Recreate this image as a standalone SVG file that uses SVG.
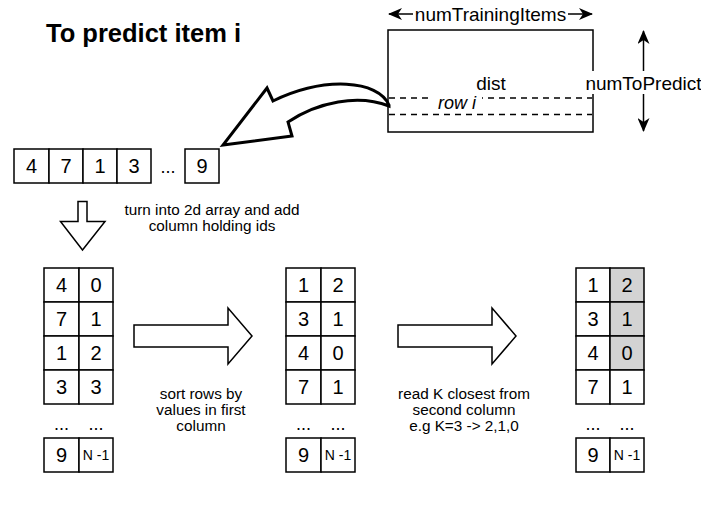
<svg xmlns="http://www.w3.org/2000/svg" width="701" height="511" viewBox="0 0 701 511">
<style>
.box{fill:#fff;stroke:#000;stroke-width:1.5}
.sh{fill:#d3d3d3;stroke:#000;stroke-width:1.5}
.num{font-family:"Liberation Sans",Arial,sans-serif;font-size:20px;text-anchor:middle;fill:#000}
.sm{font-family:"Liberation Sans",Arial,sans-serif;font-size:14px;text-anchor:middle;fill:#000}
.lbl{font-family:"Liberation Sans",Arial,sans-serif;font-size:15.3px;text-anchor:middle;fill:#000}
.big{font-family:"Liberation Sans",Arial,sans-serif;font-size:19px;fill:#000}
.blk{fill:#fff;stroke:#000;stroke-width:1.5;stroke-linejoin:miter}
.curve{fill:#fff;stroke:#000;stroke-width:3;stroke-linejoin:miter}
.dash{stroke:#000;stroke-width:1.5;stroke-dasharray:6 5;fill:none}
.ln{stroke:#000;stroke-width:1.5;fill:none}
</style>
<defs>
<marker id="ah" viewBox="0 0 14 12" refX="13" refY="6" markerWidth="14" markerHeight="12" markerUnits="userSpaceOnUse" orient="auto-start-reverse">
<path d="M0,0 L14,6 L0,12 L4,6 Z" fill="#000"/>
</marker>
</defs>
<rect width="701" height="511" fill="#fff"/>

<g id="title">
<text x="46" y="42" style="font-family:'Liberation Sans',Arial,sans-serif;font-size:25.5px;font-weight:bold">To predict item i</text>
</g>

<g id="dist">
<rect x="388" y="30" width="205" height="102" class="box"/>
<line x1="389" y1="98" x2="592" y2="98" class="dash"/>
<line x1="389" y1="114.5" x2="592" y2="114.5" class="dash"/>
<rect x="430" y="94" width="52" height="7" fill="#fff"/>
<text x="491" y="90" class="big" text-anchor="middle">dist</text>
<text x="438" y="109" class="big" font-style="italic" style="font-size:18px">row i</text>
</g>

<g id="numTrainingItems">
<line x1="389" y1="14" x2="592" y2="14" class="ln" marker-start="url(#ah)" marker-end="url(#ah)"/>
<rect x="413" y="3" width="155" height="22" fill="#fff"/>
<text x="490.5" y="20.5" class="big" text-anchor="middle">numTrainingItems</text>
</g>

<g id="numToPredict">
<line x1="643.5" y1="31" x2="643.5" y2="131" class="ln" marker-start="url(#ah)" marker-end="url(#ah)"/>
<rect x="586" y="71" width="115" height="23" fill="#fff"/>
<text x="643.5" y="89.5" class="big" text-anchor="middle">numToPredict</text>
</g>

<g id="row">
<rect x="14" y="149" width="35" height="34" class="box"/>
<rect x="49" y="149" width="34" height="34" class="box"/>
<rect x="83" y="149" width="34" height="34" class="box"/>
<rect x="117" y="149" width="34" height="34" class="box"/>
<rect x="185" y="149" width="34" height="34" class="box"/>
<text x="31.5" y="173" class="num">4</text>
<text x="66" y="173" class="num">7</text>
<text x="100" y="173" class="num">1</text>
<text x="134" y="173" class="num">3</text>
<text x="168" y="173" class="num" style="font-size:18px">...</text>
<text x="202" y="173" class="num">9</text>
</g>

<g id="table1">
<rect x="44" y="268" width="35" height="34" class="box"/><rect x="79" y="268" width="34" height="34" class="box"/>
<rect x="44" y="302" width="35" height="34" class="box"/><rect x="79" y="302" width="34" height="34" class="box"/>
<rect x="44" y="336" width="35" height="34" class="box"/><rect x="79" y="336" width="34" height="34" class="box"/>
<rect x="44" y="370" width="35" height="34" class="box"/><rect x="79" y="370" width="34" height="34" class="box"/>
<rect x="44" y="438" width="35" height="34" class="box"/><rect x="79" y="438" width="34" height="34" class="box"/>
<text x="61.5" y="292" class="num">4</text><text x="96" y="292" class="num">0</text>
<text x="61.5" y="326" class="num">7</text><text x="96" y="326" class="num">1</text>
<text x="61.5" y="360" class="num">1</text><text x="96" y="360" class="num">2</text>
<text x="61.5" y="394" class="num">3</text><text x="96" y="394" class="num">3</text>
<text x="61.5" y="430" class="num" style="font-size:18px">...</text><text x="96" y="430" class="num" style="font-size:18px">...</text>
<text x="61.5" y="462" class="num">9</text><text x="96" y="460" class="sm">N -1</text>
</g>

<g id="table2">
<rect x="286" y="268" width="35" height="34" class="box"/><rect x="321" y="268" width="34" height="34" class="box"/>
<rect x="286" y="302" width="35" height="34" class="box"/><rect x="321" y="302" width="34" height="34" class="box"/>
<rect x="286" y="336" width="35" height="34" class="box"/><rect x="321" y="336" width="34" height="34" class="box"/>
<rect x="286" y="370" width="35" height="34" class="box"/><rect x="321" y="370" width="34" height="34" class="box"/>
<rect x="286" y="438" width="35" height="34" class="box"/><rect x="321" y="438" width="34" height="34" class="box"/>
<text x="303.5" y="292" class="num">1</text><text x="338" y="292" class="num">2</text>
<text x="303.5" y="326" class="num">3</text><text x="338" y="326" class="num">1</text>
<text x="303.5" y="360" class="num">4</text><text x="338" y="360" class="num">0</text>
<text x="303.5" y="394" class="num">7</text><text x="338" y="394" class="num">1</text>
<text x="303.5" y="430" class="num" style="font-size:18px">...</text><text x="338" y="430" class="num" style="font-size:18px">...</text>
<text x="303.5" y="462" class="num">9</text><text x="338" y="460" class="sm">N -1</text>
</g>

<g id="table3">
<rect x="576" y="268" width="34" height="34" class="box"/><rect x="610" y="268" width="34" height="34" class="sh"/>
<rect x="576" y="302" width="34" height="34" class="box"/><rect x="610" y="302" width="34" height="34" class="sh"/>
<rect x="576" y="336" width="34" height="34" class="box"/><rect x="610" y="336" width="34" height="34" class="sh"/>
<rect x="576" y="370" width="34" height="34" class="box"/><rect x="610" y="370" width="34" height="34" class="box"/>
<rect x="576" y="438" width="34" height="34" class="box"/><rect x="610" y="438" width="34" height="34" class="box"/>
<text x="593" y="292" class="num">1</text><text x="627" y="292" class="num">2</text>
<text x="593" y="326" class="num">3</text><text x="627" y="326" class="num">1</text>
<text x="593" y="360" class="num">4</text><text x="627" y="360" class="num">0</text>
<text x="593" y="394" class="num">7</text><text x="627" y="394" class="num">1</text>
<text x="593" y="430" class="num" style="font-size:18px">...</text><text x="627" y="430" class="num" style="font-size:18px">...</text>
<text x="593" y="462" class="num">9</text><text x="627" y="460" class="sm">N -1</text>
</g>

<g id="connectors">
<path class="curve" d="M389,105 C378,80 325,76 273,101 L267,88 L223,145 L292,136 L288,122 C318,102 358,94 389,106 Z"/>
<path class="blk" d="M78,201.5 L87,201.5 L87,221.5 L105,221.5 L82.5,250 L60.5,221.5 L78,221.5 Z"/>
<path class="blk" d="M134,325 L228,325 L228,308 L252,336 L228,364 L228,347 L134,347 Z"/>
<path class="blk" d="M398,325 L492,325 L492,308 L516,336 L492,364 L492,347 L398,347 Z"/>
</g>

<g id="labels">
<text class="lbl"><tspan x="212" y="215">turn into 2d array and add</tspan><tspan x="212" y="231">column holding ids</tspan></text>
<text class="lbl"><tspan x="201" y="399">sort rows by</tspan><tspan x="201" y="415">values in first</tspan><tspan x="201" y="430.5">column</tspan></text>
<text class="lbl"><tspan x="464" y="399">read K closest from</tspan><tspan x="464" y="415">second column</tspan><tspan x="464" y="430.5">e.g K=3  -&gt; 2,1,0</tspan></text>
</g>
</svg>
